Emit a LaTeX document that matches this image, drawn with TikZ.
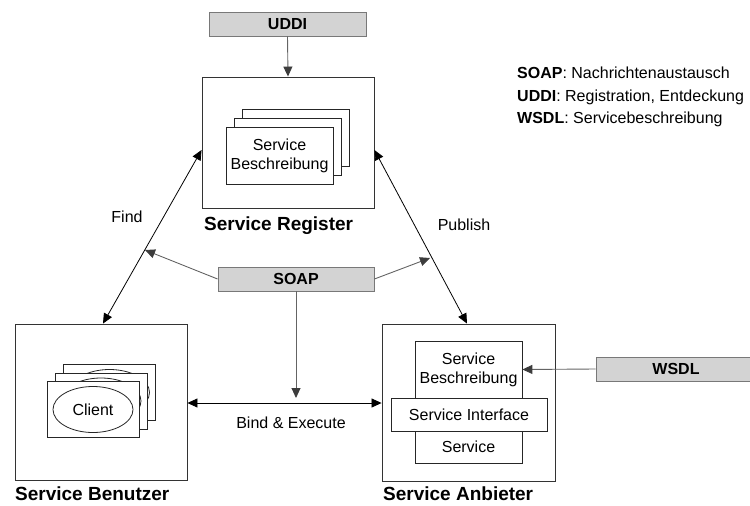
\documentclass[tikz,border=0pt]{standalone}
\usepackage{fontspec}
\setmainfont{Liberation Sans}
\usetikzlibrary{arrows.meta,shapes.geometric}
\definecolor{boxfill}{RGB}{211,211,211}
\definecolor{boxline}{RGB}{120,120,120}
\definecolor{garrow}{RGB}{100,100,100}
\definecolor{ghead}{RGB}{60,60,60}
\tikzset{
  txt/.style={font=\fontsize{16}{19}\selectfont},
  head/.style={font=\fontsize{19}{22}\selectfont\bfseries, anchor=west, inner sep=0pt},
  bigbox/.style={draw=black!80, line width=0.9pt, fill=white, inner sep=0pt},
  page/.style={draw=black!85, line width=0.8pt, fill=white, inner sep=0pt, minimum width=107pt, minimum height=57pt},
  cpage/.style={draw=black!85, line width=0.8pt, fill=white, inner sep=0pt, minimum width=92pt, minimum height=56pt},
  cell/.style={draw=black!85, line width=0.8pt, fill=white, inner sep=0pt, txt, align=center},
  tagbox/.style={draw=boxline, line width=0.9pt, fill=boxfill, inner sep=0pt, minimum height=24pt, font=\fontsize{16}{19}\selectfont\bfseries},
  garr/.style={draw=garrow, line width=0.9pt, -{Triangle[length=10pt,width=9pt,color=ghead]}},
  barr/.style={draw=black, line width=0.8pt, {Triangle[length=10pt,width=9pt]}-{Triangle[length=10pt,width=9pt]}},
}
\begin{document}
\begin{tikzpicture}[x=1pt,y=-1pt]
\useasboundingbox (0,0) rectangle (750,506);

% big boxes
\node[bigbox, minimum width=172pt, minimum height=131pt] (reg) at (288,142.5) {};
\node[bigbox, minimum width=172pt, minimum height=156pt] (ben) at (101,402) {};
\node[bigbox, minimum width=173pt, minimum height=157pt] (anb) at (468.5,402.5) {};

% register pages
\node[page] (rp3) at (295.5,138) {};
\node[page] (rp2) at (287.5,146.5) {};
\node[page, txt, align=center] (rp1) at (279.5,155.5) {Service\\Beschreibung};

% client pages
\node[cpage] (cp3) at (109.5,392.5) {};
\draw[line width=0.8pt, draw=black!85] (cp3.center) ellipse [x radius=40pt, y radius=23pt];
\node[cpage] (cp2) at (101,401) {};
\draw[line width=0.8pt, draw=black!85] (cp2.center) ellipse [x radius=40pt, y radius=23pt];
\node[cpage] (cp1) at (93,409) {};
\node[draw=black!85, line width=0.8pt, ellipse, minimum width=80pt, minimum height=46pt, inner sep=0pt, txt] (client) at (93,409.5) {Client};

% provider cells
\node[cell, minimum width=107pt, minimum height=57pt] (sb) at (468.5,369.5) {Service\\Beschreibung};
\node[cell, minimum width=107pt, minimum height=32pt] (sv) at (468.5,447) {Service};
\node[cell, minimum width=156pt, minimum height=33pt] (si) at (469,414.5) {Service Interface};

% tag boxes
\node[tagbox, minimum width=157pt] (uddi) at (287.5,24) {UDDI};
\node[tagbox, minimum width=156pt] (soap) at (296,279) {SOAP};
\node[tagbox, minimum width=160pt] (wsdl) at (676,369) {WSDL};

% headings
\node[head] (hreg) at (204,226) {Service Register};
\node[head] (hben) at (15,494) {Service Benutzer};
\node[head] (hanb) at (383,494) {Service Anbieter};

% labels
\node[txt] (find) at (127,217) {Find};
\node[txt] (pub) at (464,225) {Publish};
\node[txt] (bind) at (291,423) {Bind \& Execute};

% legend
\node[txt, anchor=west, inner sep=0pt] (l1) at (517,73) {\textbf{SOAP}: Nachrichtenaustausch};
\node[txt, anchor=west, inner sep=0pt] (l2) at (517,97) {\textbf{UDDI}: Registration, Entdeckung};
\node[txt, anchor=west, inner sep=0pt] (l3) at (517,119) {\textbf{WSDL}: Servicebeschreibung};

% coordinates for free ends
\coordinate (sl) at (145,250);
\coordinate (sr) at (430,258);
\coordinate (sd) at (296,398);

% connectors
\draw[garr] (uddi.south) -- (reg.north);
\draw[garr] (soap.west) -- (sl);
\draw[garr] (soap.east) -- (sr);
\draw[garr] (soap.south) -- (sd);
\draw[garr] (wsdl.west) -- (sb.east);
\draw[barr] ([yshift=-7.5pt]reg.west) -- ([xshift=2pt]ben.north);
\draw[barr] ([yshift=-7.5pt]reg.east) -- ([xshift=-1.5pt]anb.north);
\draw[barr] ([yshift=-1pt]ben.east) -- ([yshift=-0.5pt]anb.west);
\end{tikzpicture}
\end{document}
